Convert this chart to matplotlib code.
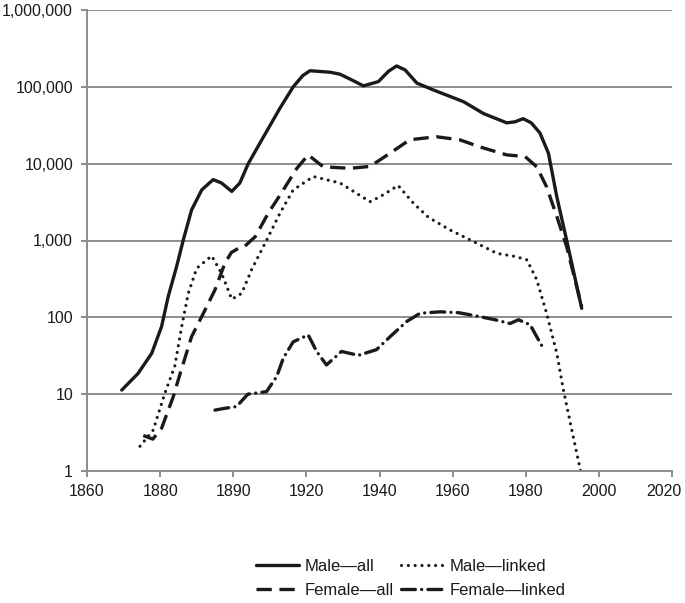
import matplotlib
matplotlib.use("Agg")
import matplotlib.pyplot as plt
import matplotlib.transforms as mtransforms
from matplotlib.ticker import FixedLocator, FixedFormatter, NullLocator

plt.rcParams['font.family'] = ['Liberation Sans', 'DejaVu Sans']
plt.rcParams['lines.scale_dashes'] = False

# ---- data ----
male_all_years = [1869.5, 1874, 1877.7, 1880.4, 1882.2, 1884.5, 1886.3, 1888.6, 1891.4, 1894.5,
                  1896.8, 1899.6, 1901.8, 1904.1, 1907.8, 1912.8, 1916.4, 1919, 1921, 1926.5,
                  1929.2, 1932.4, 1935.6, 1939.7, 1942.5, 1944.7, 1947, 1950.2, 1955, 1959.3,
                  1963, 1968.4, 1974.8, 1977, 1979.3, 1981.5, 1983.9, 1986.2, 1988.5, 1991.2,
                  1995.3]
male_all_vals = [11.3, 18.7, 34, 76, 186, 457, 1000, 2500, 4570, 6200,
                 5600, 4350, 5600, 10000, 20400, 53000, 100000, 140000, 162000, 155000,
                 146000, 123000, 103000, 117000, 160000, 187000, 166000, 112000, 90000, 75000,
                 64000, 45000, 34000, 35000, 38500, 34000, 25000, 13700, 3700, 1000,
                 131]

female_all_years = [1875.4, 1878, 1880.4, 1883.6, 1885.5, 1888.6, 1892.3, 1895, 1897.7, 1899.5,
                    1901.4, 1903, 1906, 1909.6, 1912.8, 1917.4, 1920.5, 1924.6, 1931.9, 1937.4,
                    1942.9, 1948.3, 1955.6, 1962, 1967.5, 1974.8, 1979.8, 1983, 1985.7, 1988.5,
                    1991.2, 1995.3]
female_all_vals = [2.9, 2.6, 3.6, 9.3, 18.7, 56, 125, 228, 505, 700,
                   790, 830, 1120, 2280, 3900, 8700, 13000, 9100, 8700, 9200,
                   13700, 20500, 22400, 20400, 16500, 13000, 12400, 9100, 5000, 2050,
                   830, 138]

male_linked_years = [1874.5, 1878.1, 1881.3, 1884, 1885.9, 1887.7, 1890, 1894.1, 1896.8, 1899.6,
                     1902.3, 1905, 1909.6, 1912.8, 1916.4, 1921.9, 1929.2, 1937.4, 1940.1, 1945.1,
                     1949.3, 1953.4, 1959.3, 1965.7, 1972.1, 1977.1, 1980.3, 1983, 1985.7, 1988.5,
                     1990.3, 1992.6, 1995]
male_linked_vals = [2.1, 3.4, 10.3, 23, 76, 205, 435, 630, 375, 172,
                    205, 415, 1120, 2280, 4550, 6800, 5600, 3200, 3700, 5200,
                    3050, 2000, 1370, 970, 680, 620, 560, 310, 113, 34,
                    11.3, 3.4, 1.0]

female_linked_years = [1895, 1897.3, 1900.9, 1904, 1909.1, 1911.9, 1913.7, 1916.4, 1920.5, 1922.8,
                       1925.5, 1929.6, 1934.2, 1939.2, 1942.9, 1947.4, 1951.1, 1956.6, 1961.6, 1967.5,
                       1971.6, 1975.7, 1978, 1981.2, 1983, 1985]
female_linked_vals = [6.2, 6.5, 6.9, 10, 10.8, 17, 29.5, 48, 59, 36,
                      24, 36, 32, 38, 56, 88, 113, 118, 115, 102,
                      93, 83, 93, 80, 56, 38]

x_tick_positions = [1860, 1880, 1900, 1920, 1940, 1960, 1980, 2000, 2020]
x_tick_labels = ['1860', '1880', '1890', '1920', '1940', '1960', '1980', '2000', '2020']
y_tick_positions = [1, 10, 100, 1000, 10000, 100000, 1000000]
y_tick_labels = ['1', '10', '100', '1,000', '10,000', '100,000', '1,000,000']

series_labels = ['Male\u2014all', 'Male\u2014linked', 'Female\u2014all', 'Female\u2014linked']

# ---- figure ----
fig = plt.figure(figsize=(6.85, 6.03), dpi=100)
ax = fig.add_axes([87/685, 1 - 471/603, (672 - 87)/685, (471 - 10)/603])

grid_col = '#8c8c8c'
line_col = '#1a1a1a'
lw = 2.4

l1, = ax.plot(male_all_years, male_all_vals, color=line_col, lw=lw,
              solid_capstyle='round', solid_joinstyle='round', label=series_labels[0])
l2, = ax.plot(male_linked_years, male_linked_vals, color=line_col, lw=2.3,
              linestyle=(0, (0.01, 4.9)), dash_capstyle='round', label=series_labels[1])
l3, = ax.plot(female_all_years, female_all_vals, color=line_col, lw=lw,
              linestyle=(0, (11, 5.5)), dash_capstyle='butt', label=series_labels[2])
l4, = ax.plot(female_linked_years, female_linked_vals, color=line_col, lw=lw,
              linestyle=(0, (10, 4.5, 0.01, 4.5)), dash_capstyle='round', label=series_labels[3])

ax.set_yscale('log')
ax.set_xlim(1860, 2020)
ax.set_ylim(1, 1000000)

ax.xaxis.set_major_locator(FixedLocator(x_tick_positions))
ax.xaxis.set_major_formatter(FixedFormatter(x_tick_labels))
ax.xaxis.set_minor_locator(NullLocator())
ax.yaxis.set_major_locator(FixedLocator(y_tick_positions))
ax.yaxis.set_major_formatter(FixedFormatter(y_tick_labels))
ax.yaxis.set_minor_locator(NullLocator())

ax.grid(axis='y', color=grid_col, lw=1.4)
ax.set_axisbelow(True)
for s in ['top', 'right']:
    ax.spines[s].set_visible(False)
for s in ['left', 'bottom']:
    ax.spines[s].set_color(grid_col)
    ax.spines[s].set_linewidth(1.4)

ax.tick_params(axis='both', colors=grid_col, labelcolor='#1a1a1a', labelsize=11.5,
               length=4, width=1.4, direction='out')
ax.tick_params(axis='y', pad=6)
ax.tick_params(axis='x', pad=5)

# the last x label sits slightly left of its tick in the reference
fig.canvas.draw()
last_lbl = ax.get_xticklabels()[-1]
last_lbl.set_transform(last_lbl.get_transform() +
                       mtransforms.ScaledTranslation(-8/100, 0, fig.dpi_scale_trans))

# legend rows: Male—all / Male—linked, then Female—all / Female—linked
leg = fig.legend(handles=[l1, l3, l2, l4],
                 labels=[series_labels[0], series_labels[2], series_labels[1], series_labels[3]],
                 ncol=2, loc='center', bbox_to_anchor=(0.6, 0.041), frameon=False,
                 fontsize=12, handlelength=2.6, handletextpad=0.35,
                 columnspacing=0.4, labelspacing=0.55)
for t in leg.get_texts():
    t.set_color('#1a1a1a')

fig.savefig('out.png', dpi=100)
